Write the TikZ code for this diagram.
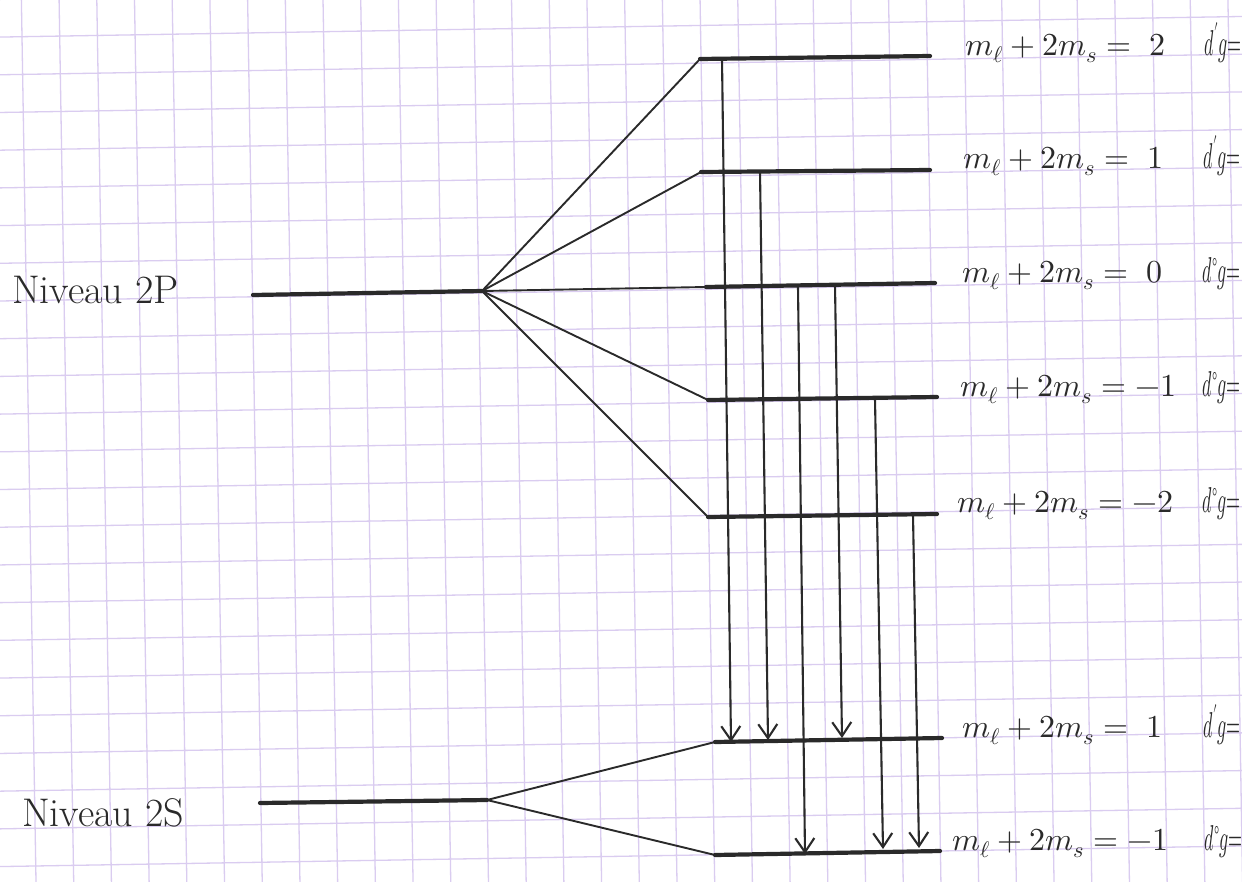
\documentclass[tikz,border=0pt]{standalone}
\usepackage{fontspec}
\usepackage{unicode-math}
\setmathfont{Latin Modern Math}
\usetikzlibrary{arrows.meta}
\definecolor{gridc}{RGB}{218,204,240}
\definecolor{ink}{RGB}{42,42,42}
\tikzset{
 level/.style={ink, line width=4.2pt, line cap=round},
 fan/.style={ink, line width=1.9pt},
 trans/.style={ink, line width=2.1pt, -{Straight Barb[length=14pt,width=19pt,line width=2.1pt]}},
 lbl/.style={ink, anchor=base west, inner sep=0pt, font=\fontsize{32}{38}\selectfont},
 dlbl/.style={ink, anchor=base west, inner sep=0pt, font=\fontsize{36}{42}\selectfont},
 niv/.style={ink, anchor=base west, inner sep=0pt, font=\fontsize{40}{48}\selectfont},
 gridl/.style={gridc, line width=1.3pt},
}
\begin{document}
\begin{tikzpicture}[x=1pt,y=-1pt]
\useasboundingbox (0,0) rectangle (1242,881);
\clip (0,0) rectangle (1242,881);
\fill[white] (0,0) rectangle (1242,881);
% squared paper, slightly rotated
\draw[gridl, step=37.7pt, shift={(22,36.7)}, rotate=0.95] (-80,-80) grid (1300,900);

% level endpoints
\coordinate (PL) at (253,295); \coordinate (P) at (482,291);
\coordinate (SL) at (260,803); \coordinate (S) at (487,800);
\coordinate (l2a) at (700,59);   \coordinate (l2b) at (930,56);
\coordinate (l1a) at (701,172);  \coordinate (l1b) at (930,170);
\coordinate (l0a) at (706,287);  \coordinate (l0b) at (935,283);
\coordinate (lm1a) at (708,400); \coordinate (lm1b) at (937,397);
\coordinate (lm2a) at (708,517); \coordinate (lm2b) at (937,514);
\coordinate (s1a) at (715,742);  \coordinate (s1b) at (942,738);
\coordinate (sm1a) at (715,855); \coordinate (sm1b) at (940,851);

% levels
\draw[level] (PL) -- (P);
\draw[level] (SL) -- (S);
\foreach \n in {l2,l1,l0,lm1,lm2,s1,sm1} \draw[level] (\n a) -- (\n b);

% splitting fans
\foreach \n in {l2,l1,l0,lm1,lm2} \draw[fan] (P) -- (\n a);
\foreach \n in {s1,sm1} \draw[fan] (S) -- (\n a);

% transitions
\coordinate (t1s) at (722,59);  \coordinate (t1e) at (731,742);
\coordinate (t2s) at (760,171); \coordinate (t2e) at (768,740);
\coordinate (t3s) at (798,287); \coordinate (t3e) at (805,854);
\coordinate (t4s) at (835,285); \coordinate (t4e) at (842,738);
\coordinate (t5s) at (875,399); \coordinate (t5e) at (883,849);
\coordinate (t6s) at (913,515); \coordinate (t6e) at (919,848);
\foreach \i in {1,...,6} \draw[trans] (t\i s) -- (t\i e);

% labels
\node[niv] (n2p) at (12,303) {Niveau 2P};
\node[niv] (n2s) at (22,826) {Niveau 2S};

\node[lbl] (m2)  at (965,55)  {$m_\ell+2m_s=\;2$};
\node[lbl] (m1)  at (963,168) {$m_\ell+2m_s=\;1$};
\node[lbl] (m0)  at (962,282) {$m_\ell+2m_s=\;0$};
\node[lbl] (mm1) at (960,396) {$m_\ell+2m_s=-1$};
\node[lbl] (mm2) at (957,512) {$m_\ell+2m_s=-2$};
\node[lbl] (ms1) at (962,737) {$m_\ell+2m_s=\;1$};
\node[lbl] (msm1) at (952,850) {$m_\ell+2m_s=-1$};

\node[dlbl] (d2)  at (1204,55)  {\scalebox{0.5}[1]{$d^{\prime}g{=}$}};
\node[dlbl] (d1)  at (1203,168) {\scalebox{0.5}[1]{$d^{\prime}g{=}$}};
\node[dlbl] (d0)  at (1202,282) {\scalebox{0.5}[1]{$d^{\circ}g{=}$}};
\node[dlbl] (dm1) at (1202,396) {\scalebox{0.5}[1]{$d^{\circ}g{=}$}};
\node[dlbl] (dm2) at (1202,512) {\scalebox{0.5}[1]{$d^{\circ}g{=}$}};
\node[dlbl] (ds1) at (1203,737) {\scalebox{0.5}[1]{$d^{\prime}g{=}$}};
\node[dlbl] (dsm1) at (1204,850) {\scalebox{0.5}[1]{$d^{\circ}g{=}$}};
\end{tikzpicture}
\end{document}
